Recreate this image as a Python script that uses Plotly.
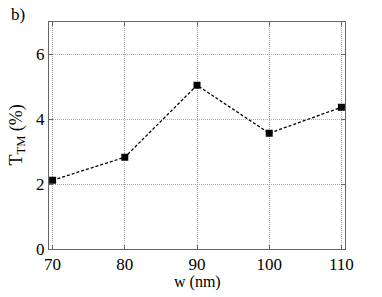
import plotly.graph_objects as go

w_nm = [70, 80, 90, 100, 110]
t_tm = [2.12, 2.83, 5.05, 3.57, 4.37]
x_ticks = [70, 80, 90, 100, 110]
y_ticks = [0, 2, 4, 6]

FONT = "Liberation Serif"

fig = go.Figure()
fig.add_trace(go.Scatter(
    x=w_nm, y=t_tm, mode="lines+markers",
    line=dict(color="black", width=1.3, dash="3px,2px"),
    marker=dict(symbol="square", size=7, color="black"),
    showlegend=False,
))

axis_common = dict(
    showline=True, linecolor="#666", linewidth=1, mirror="ticks",
    ticks="inside", ticklen=4, tickcolor="#666",
    showgrid=True, gridcolor="#aaa", griddash="1px,1px", gridwidth=1,
    zeroline=False, automargin=False,
    tickfont=dict(family=FONT, size=17, color="black"),
)

fig.update_xaxes(range=[69.5, 110.5], tickvals=x_ticks, **axis_common)
fig.update_yaxes(range=[0, 7], tickvals=y_ticks, **axis_common)

fig.add_annotation(text="w (nm)", xref="paper", yref="paper", x=0.5, y=-0.145,
                   xanchor="center", yanchor="middle", showarrow=False,
                   font=dict(family=FONT, size=16, color="black"))
fig.add_annotation(text="T<sub>TM</sub> (%)", xref="paper", yref="paper", x=-0.108, y=0.5,
                   xanchor="center", yanchor="middle", textangle=-90, showarrow=False,
                   font=dict(family=FONT, size=18, color="black"))
fig.add_annotation(text="b)", xref="paper", yref="paper", x=-0.135, y=1.085,
                   xanchor="left", yanchor="top", showarrow=False,
                   font=dict(family=FONT, size=17, color="black"))

fig.update_layout(
    width=382, height=297,
    margin=dict(l=49, r=37, t=22, b=48),
    paper_bgcolor="white", plot_bgcolor="white",
    font=dict(family=FONT),
)

fig.write_html("out.html", config={"displayModeBar": False},
               post_script="document.body.style.margin='0px';")
